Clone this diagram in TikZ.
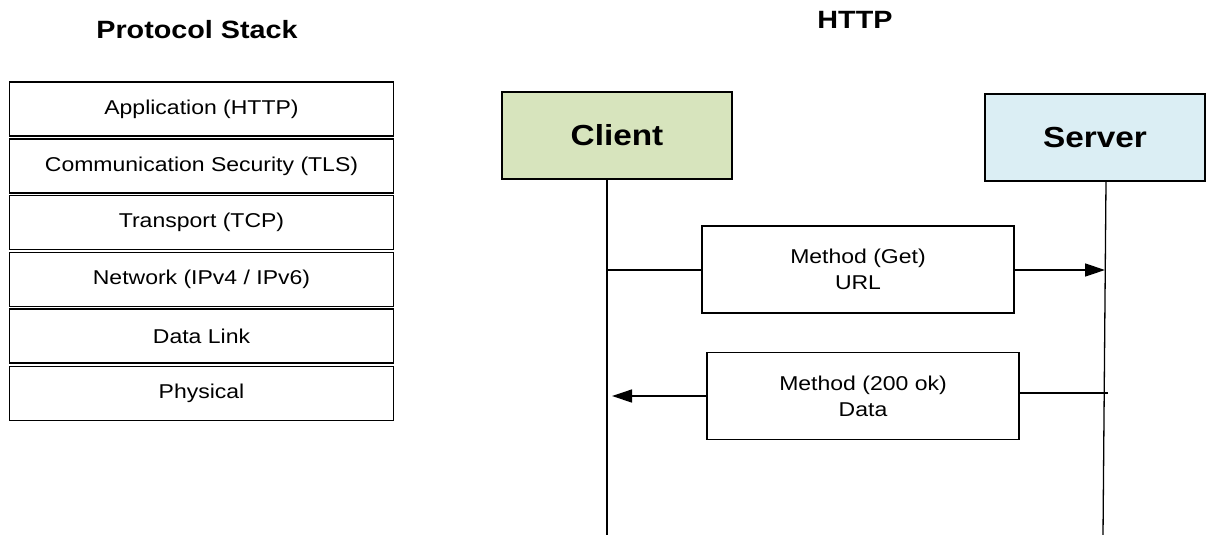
\documentclass[tikz,border=0pt]{standalone}
\usepackage{fontspec}
\setmainfont{Liberation Sans}
\usetikzlibrary{arrows.meta}
\newcommand{\widetxt}[1]{\scalebox{1.15}[1]{#1}}
\begin{document}
\begin{tikzpicture}[x=1pt,y=-1pt,
  layer/.style={draw=black,line width=1.4pt,minimum width=384pt,minimum height=54pt,inner sep=0pt,font=\fontsize{20}{24}\selectfont},
  actor/.style={draw=black,line width=1.4pt,minimum height=87pt,inner sep=0pt,font=\bfseries\fontsize{29}{34}\selectfont},
  msg/.style={draw=black,line width=1.4pt,minimum height=87pt,minimum width=312pt,inner sep=0pt,align=center,font=\fontsize{20}{26}\selectfont},
  title/.style={font=\bfseries\fontsize{25}{30}\selectfont},
  conn/.style={line width=1.3pt},
  tip/.style={-{Triangle[length=20pt,width=13pt]}}]
\useasboundingbox (0,0) rectangle (1207,535);
\node[title] (t1) at (197,30) {\widetxt{Protocol Stack}};
\node[title] (t2) at (855,20) {\widetxt{HTTP}};
\node[layer] (l1) at (201.5,109) {\widetxt{Application (HTTP)}};
\node[layer] (l2) at (201.5,166) {\widetxt{Communication Security (TLS)}};
\node[layer] (l3) at (201.5,222.5) {\widetxt{Transport (TCP)}};
\node[layer] (l4) at (201.5,279.5) {\widetxt{Network (IPv4 / IPv6)}};
\node[layer] (l5) at (201.5,336) {\widetxt{Data Link}};
\node[layer] (l6) at (201.5,393.5) {\widetxt{Physical}};
\node[actor,fill={rgb,255:red,215;green,228;blue,189},minimum width=230pt] (client) at (617,135.5) {\widetxt{Client}};
\node[actor,fill={rgb,255:red,219;green,238;blue,244},minimum width=220pt] (server) at (1095,137.5) {\widetxt{Server}};
\coordinate (cb) at (607,535);
\coordinate (sb) at (1103,535);
\draw[conn] (client.south -| cb) -- (cb);
\draw[conn] (1106,181) coordinate (st) -- (sb);
\node[msg] (m1) at (858,269.5) {\widetxt{Method (Get)}\\\widetxt{URL}};
\node[msg] (m2) at (863,396) {\widetxt{Method (200 ok)}\\\widetxt{Data}};
\coordinate (c1) at (607,270);
\coordinate (s1) at (1105,270);
\coordinate (s2) at (1108,393);
\coordinate (c2) at (612,396);
\draw[conn] (c1) -- (m1.west |- c1);
\draw[conn,tip] (m1.east |- s1) -- (s1);
\draw[conn] (s2) -- (m2.east |- s2);
\draw[conn,tip] (m2.west |- c2) -- (c2);
\end{tikzpicture}
\end{document}
